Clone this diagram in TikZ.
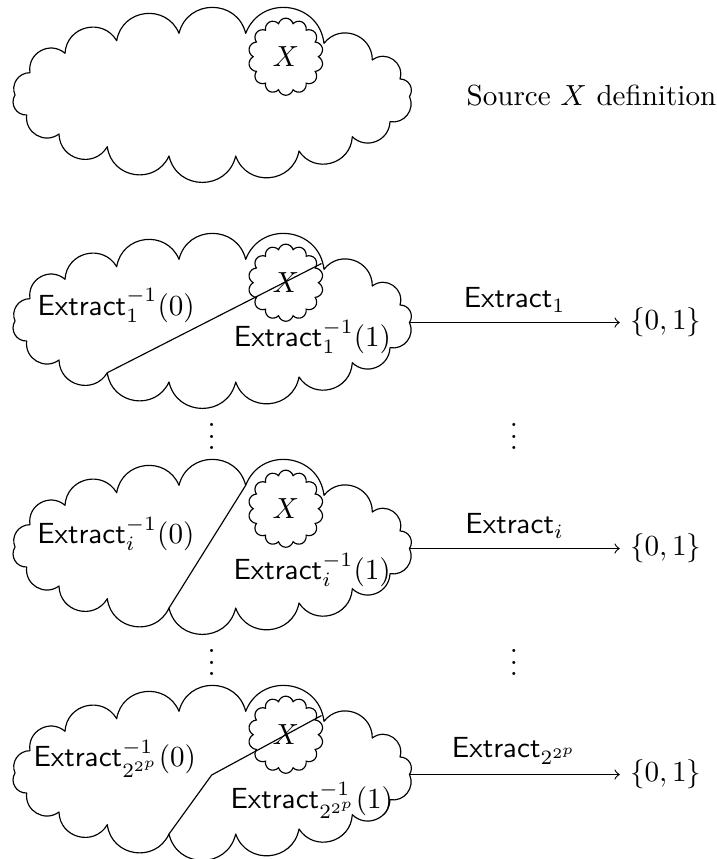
\documentclass[tikz,border=0pt]{standalone}
\usetikzlibrary{shapes.symbols}
\tikzset{
  puff/.code={\pgfmathsetmacro\plsn{(4/3)*tan(#1/2)/(2*sin(#1))/0.3915}\edef\ptmp{\noexpand\tikzset{bend left=#1,looseness=\plsn}}\ptmp},
  xcloud/.style={draw, cloud, cloud puffs=14, cloud ignores aspect, minimum width=25.8pt, minimum height=26.5pt, inner sep=0pt},
  lbl/.style={anchor=base west, inner sep=0pt},
  dotsnode/.style={inner sep=0pt},
  bigcloud/.pic={
    \coordinate (-j1) at (30,-72.7);
    \coordinate (-j2) at (65,-53.3);
    \coordinate (-j3) at (116.7,-40.7);
    \coordinate (-j4) at (179,-33.3);
    \coordinate (-j5) at (245.7,-33.3);
    \coordinate (-j6) at (324,-43.3);
    \coordinate (-j7) at (372.3,-60);
    \coordinate (-j8) at (400,-79);
    \coordinate (-j9) at (409.5,-96.5);
    \coordinate (-j10) at (390,-121.7);
    \coordinate (-j11) at (352.3,-136.7);
    \coordinate (-j12) at (299,-151);
    \coordinate (-j13) at (235.7,-156);
    \coordinate (-j14) at (169,-156);
    \coordinate (-j15) at (107.3,-146.7);
    \coordinate (-j16) at (59,-134);
    \coordinate (-j17) at (26.7,-115);
    \coordinate (-j18) at (15,-95);
    \coordinate (-a) at (321.5,-37.5);
    \draw[line join=round] (-j1) to[puff=70] (-j2) to[puff=73] (-j3) to[puff=74] (-j4)
      to[puff=76] (-j5) to[puff=76] (-j6) to[puff=71] (-j7) to[puff=72] (-j8)
      to[puff=62] (-j9) to[puff=62] (-j10) to[puff=66] (-j11) to[puff=72] (-j12)
      to[puff=75] (-j13) to[puff=77] (-j14) to[puff=74] (-j15) to[puff=74] (-j16)
      to[puff=67] (-j17) to[puff=62] (-j18) to[puff=57] (-j1);
    \node[xcloud] (-x) at (285.8,-56.7) {$X$};
  }
}
\begin{document}
\begin{tikzpicture}[x=0.3436pt, y=0.3436pt]
\useasboundingbox (0,0) rectangle (716,-859);
% clouds
\pic (c0) at (0,0) {bigcloud};
\pic (c1) at (0,-226) {bigcloud};
\pic (ci) at (0,-452) {bigcloud};
\pic (c3) at (0,-678) {bigcloud};
% partition lines
\draw (c1-j15) -- (c1-a);
\draw (ci-j14) -- (ci-j5);
\coordinate (k3) at (211.7,-775);
\draw (c3-j14) -- (k3) -- (c3-a);
% texts
\node[lbl] (src) at (466,-105) {Source $X$ definition};
\node[lbl] (l10) at (37,-315) {$\mathsf{Extract}_1^{-1}(0)$};
\node[lbl] (l11) at (233.3,-346.7) {$\mathsf{Extract}_1^{-1}(1)$};
\node[lbl] (li0) at (36.7,-543.3) {$\mathsf{Extract}_i^{-1}(0)$};
\node[lbl] (li1) at (233,-579.3) {$\mathsf{Extract}_i^{-1}(1)$};
\node[lbl] (l30) at (33,-766.7) {$\mathsf{Extract}_{2^{2^p}}^{-1}(0)$};
\node[lbl] (l31) at (230,-808.3) {$\mathsf{Extract}_{2^{2^p}}^{-1}(1)$};
% targets and arrows
\node[anchor=west] (b1) at ([xshift=72.26pt]c1-j9) {$\{0,1\}$};
\node[anchor=west] (bi) at ([xshift=72.26pt]ci-j9) {$\{0,1\}$};
\node[anchor=west] (b3) at ([xshift=72.26pt]c3-j9) {$\{0,1\}$};
\draw[->] (c1-j9) -- (b1.west) node[midway, above] {$\mathsf{Extract}_1$};
\draw[->] (ci-j9) -- (bi.west) node[midway, above] {$\mathsf{Extract}_i$};
\draw[->] (c3-j9) -- (b3.west) node[midway, above] {$\mathsf{Extract}_{2^{2^p}}$};
% dots
\node[dotsnode] (d1l) at (211.7,-428) {$\vdots$};
\node[dotsnode] (d1r) at (514,-428) {$\vdots$};
\node[dotsnode] (d2l) at (211.7,-654) {$\vdots$};
\node[dotsnode] (d2r) at (514,-654) {$\vdots$};
\end{tikzpicture}
\end{document}
